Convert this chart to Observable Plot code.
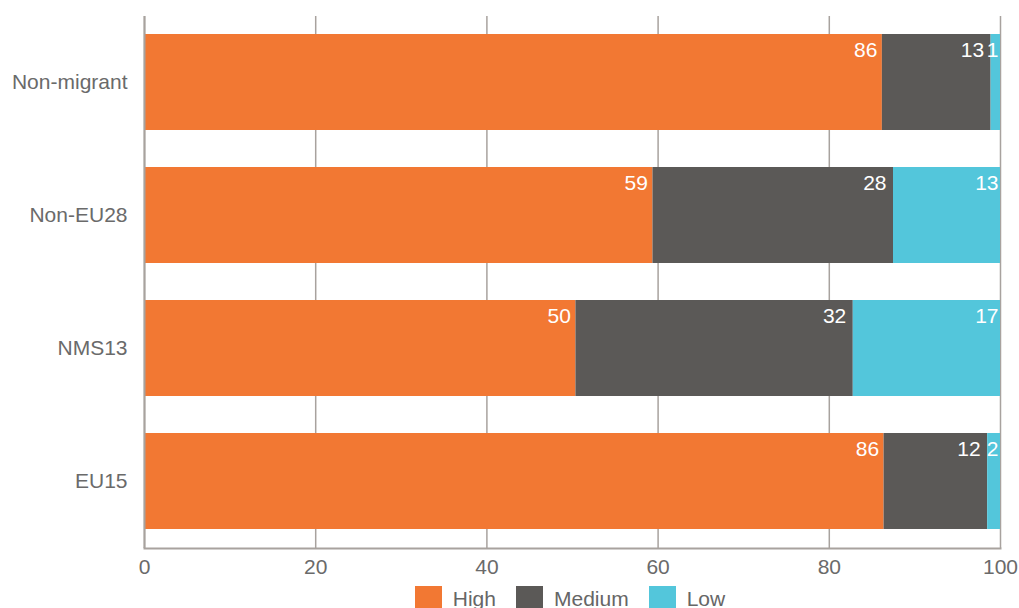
<!DOCTYPE html>
<html>
<head>
<meta charset="utf-8">
<script src="https://cdn.jsdelivr.net/npm/d3@7"></script>
<script src="https://cdn.jsdelivr.net/npm/@observablehq/plot@0.6"></script>
<style>
  body { margin: 0; background: #fff; font-family: "Liberation Sans", Arial, sans-serif; }
  #legend { display: flex; justify-content: center; gap: 0; margin: 6px 19px 0 140px; font-size: 21px; color: #666; }
  .item { display: flex; align-items: flex-start; margin: 0 10px; }
  .sw { width: 27px; height: 22px; margin-right: 11px; }
  .lab { line-height: 24px; margin-top: 1px; }
</style>
</head>
<body>
<div id="chart"></div>
<div id="legend"></div>
<script>
const groups = ["Non-migrant", "Non-EU28", "NMS13", "EU15"];
const levels = ["High", "Medium", "Low"];
const colors = ["#f27833", "#5b5957", "#53c6db"];
const high   = [86.2, 59.4, 50.4, 86.4];
const medium = [12.7, 28.1, 32.4, 12.1];
const low    = [1.1, 12.5, 17.2, 1.5];
const xTicks = [0, 20, 40, 60, 80, 100];

const series = [high, medium, low];
const data = [];
groups.forEach((g, i) => {
  let cum = 0;
  levels.forEach((l, j) => {
    cum += series[j][i];
    data.push({group: g, level: l, value: series[j][i], end: cum});
  });
});

const labelOffsets = {High: -5, Medium: -7, Low: -2};
const labelMarks = levels.map(l =>
  Plot.text(data.filter(d => d.level === l), {x: "end", y: "group",
    text: d => String(Math.round(d.value)), fill: "white", textAnchor: "end",
    dx: labelOffsets[l], dy: -32, fontSize: 21})
);

const plot = Plot.plot({
  width: 1019,
  height: 580,
  marginLeft: 144,
  marginRight: 19,
  marginTop: 16,
  marginBottom: 32,
  style: {fontFamily: "Liberation Sans, Arial, sans-serif", fontSize: "21px", color: "#666"},
  x: {domain: [0, 100], ticks: xTicks, label: null},
  y: {domain: groups, label: null, paddingInner: 0.278, paddingOuter: 0.139},
  color: {domain: levels, range: colors},
  marks: [
    Plot.gridX(xTicks, {stroke: "#a8a29e", strokeOpacity: 1, strokeWidth: 1.5}),
    Plot.barX(data, Plot.stackX({x: "value", y: "group", fill: "level", order: levels})),
    ...labelMarks,
    Plot.ruleX([0], {stroke: "#a8a29e", strokeWidth: 2}),
    Plot.frame({anchor: "bottom", stroke: "#a8a29e", strokeWidth: 2}),
    Plot.axisX(xTicks, {tickSize: 0, tickPadding: 11, fontSize: 21, fill: "#6a6a6a"}),
    Plot.axisY({tickSize: 0, tickPadding: 17, fontSize: 21, fill: "#6a6a6a"})
  ]
});
document.getElementById("chart").appendChild(plot);

const legend = document.getElementById("legend");
levels.forEach((l, i) => {
  const it = document.createElement("div");
  it.className = "item";
  const sw = document.createElement("div");
  sw.className = "sw";
  sw.style.background = colors[i];
  const lab = document.createElement("div");
  lab.className = "lab";
  lab.textContent = l;
  it.appendChild(sw); it.appendChild(lab);
  legend.appendChild(it);
});
</script>
</body>
</html>
